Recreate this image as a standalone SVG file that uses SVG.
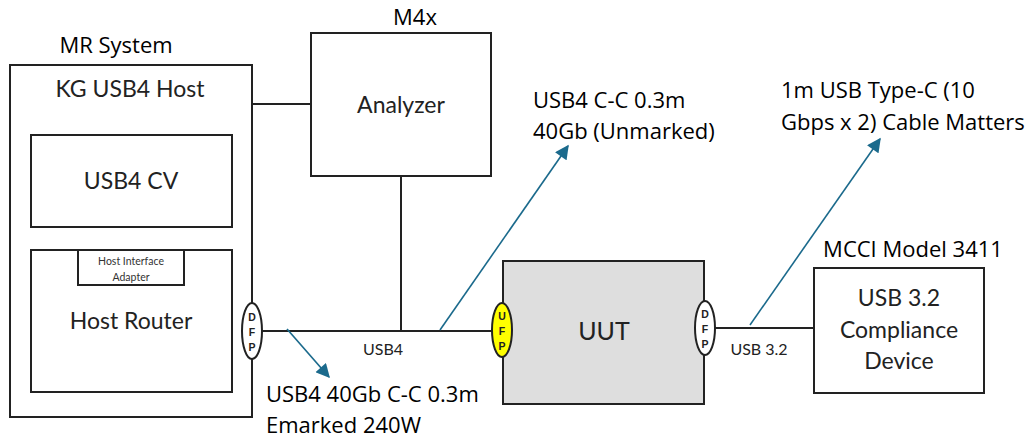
<svg xmlns="http://www.w3.org/2000/svg" width="1031" height="440" viewBox="0 0 1031 440">
<style>
.box{fill:#fff;stroke:#222;stroke-width:2}
.ln{fill:none;stroke:#222;stroke-width:2}
.bl{fill:none;stroke:#1b6a8c;stroke-width:1.6}
.t{font-family:"Open Sans","Liberation Sans",sans-serif;font-size:22px;fill:#000}
.b{font-family:Lato,"Liberation Sans",sans-serif;font-size:23px;fill:#222;text-anchor:middle}
.s{font-family:Lato,"Liberation Sans",sans-serif;font-size:16px;fill:#222;text-anchor:middle}
.p{font-family:"Liberation Sans",sans-serif;font-size:10.5px;font-weight:bold;fill:#222;text-anchor:middle}
.h{font-family:Lato,"Liberation Sans",sans-serif;font-size:10.5px;fill:#333;text-anchor:middle}
</style>
<defs>
<marker id="ah" viewBox="0 0 10 10" refX="9" refY="5" markerWidth="15" markerHeight="14" markerUnits="userSpaceOnUse" orient="auto">
<path d="M0,0 L10,5 L0,10 z" fill="#1b6a8c"/>
</marker>
</defs>
<g id="connectors">
<line class="ln" x1="252" y1="104" x2="311" y2="104"/>
<line class="ln" x1="401" y1="176" x2="401" y2="331"/>
<line class="ln" x1="262" y1="331" x2="492" y2="331"/>
<line class="ln" x1="131" y1="227" x2="131" y2="250"/>
<line class="ln" x1="715" y1="328" x2="814" y2="328"/>
<line class="bl" x1="287" y1="329" x2="329" y2="377" marker-end="url(#ah)"/>
<line class="bl" x1="440" y1="330" x2="568" y2="146" marker-end="url(#ah)"/>
<line class="bl" x1="750" y1="325" x2="880" y2="139" marker-end="url(#ah)"/>
</g>
<g id="mr-system">
<text class="t" x="116" y="53" text-anchor="middle">MR System</text>
</g>
<g id="kg-host">
<rect class="box" x="10" y="65" width="242" height="352"/>
<text class="b" x="130" y="97">KG USB4 Host</text>
</g>
<g id="usb4-cv">
<rect class="box" x="31" y="135" width="201" height="92"/>
<text class="b" x="131" y="189">USB4 CV</text>
</g>
<g id="host-router">
<rect class="box" x="31" y="250" width="201" height="142"/>
<text class="b" x="131" y="329">Host Router</text>
</g>
<g id="host-interface-adapter">
<rect class="box" x="78" y="250" width="106" height="35"/>
<text class="h" x="131" y="265">Host Interface</text>
<text class="h" x="131" y="281">Adapter</text>
</g>
<g id="dfp-host">
<ellipse cx="252" cy="331" rx="10" ry="28" fill="#fff" stroke="#222" stroke-width="2"/>
<text class="p" x="252" y="321">D</text>
<text class="p" x="252" y="336">F</text>
<text class="p" x="252" y="351">P</text>
</g>
<g id="analyzer">
<text class="t" x="415" y="25" text-anchor="middle">M4x</text>
<rect class="box" x="311" y="33" width="180" height="143"/>
<text class="b" x="401" y="113">Analyzer</text>
</g>
<g id="uut">
<rect x="503" y="261" width="201" height="143" fill="#dedede" stroke="#222" stroke-width="2"/>
<text class="b" style="font-size:25px" x="604" y="340">UUT</text>
</g>
<g id="ufp-uut">
<ellipse cx="502" cy="330" rx="10" ry="27" fill="#ffff00" stroke="#222" stroke-width="2"/>
<text class="p" x="502" y="320">U</text>
<text class="p" x="502" y="335">F</text>
<text class="p" x="502" y="350">P</text>
</g>
<g id="dfp-uut">
<ellipse cx="705" cy="328" rx="10" ry="27" fill="#fff" stroke="#222" stroke-width="2"/>
<text class="p" x="705" y="318">D</text>
<text class="p" x="705" y="333">F</text>
<text class="p" x="705" y="348">P</text>
</g>
<g id="mcci">
<text class="t" x="913" y="257" text-anchor="middle">MCCI Model 3411</text>
<rect class="box" x="814" y="268" width="170" height="125"/>
<text class="b" x="899" y="306">USB 3.2</text>
<text class="b" x="899" y="338">Compliance</text>
<text class="b" x="899" y="369">Device</text>
</g>
<g id="labels">
<text class="s" x="383" y="355">USB4</text>
<text class="s" x="759" y="355">USB 3.2</text>
<text class="t" x="533" y="108">USB4 C-C 0.3m</text>
<text class="t" x="533" y="139">40Gb (Unmarked)</text>
<text class="t" x="781" y="98">1m USB Type-C (10</text>
<text class="t" x="781" y="130">Gbps x 2) Cable Matters</text>
<text class="t" x="266" y="402">USB4 40Gb C-C 0.3m</text>
<text class="t" x="266" y="433">Emarked 240W</text>
</g>
</svg>
